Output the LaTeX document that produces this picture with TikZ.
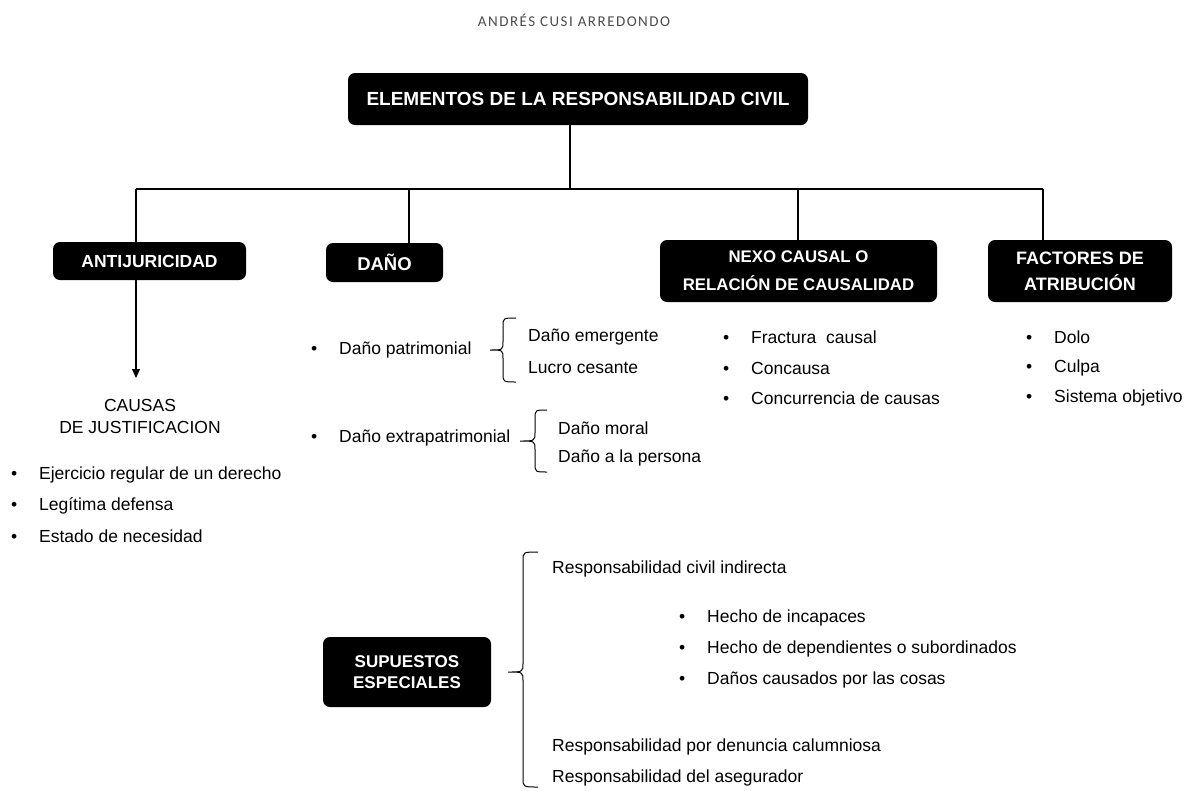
\documentclass[tikz,border=0pt]{standalone}
\usepackage{fontspec}
\setmainfont{Liberation Sans}
\newfontfamily\titlefont[LetterSpace=10]{Carlito}
\usetikzlibrary{arrows.meta}
\newcommand{\wbrace}[6]{% tip x, vertical x, end x, top y, mid y, bottom y
  \draw[brl] (#3,#4) .. controls (#2,#4) .. (#2,#4+9) -- (#2,#5-9)
    .. controls (#2,#5) .. (#1,#5) .. controls (#2,#5) .. (#2,#5+9)
    -- (#2,#6-9) .. controls (#2,#6) .. (#3,#6);}
\newcommand{\bul}{\makebox[28pt][l]{•}}
\begin{document}
\begin{tikzpicture}[x=1pt,y=-1pt,
  blackbox/.style={fill=black, rounded corners=7pt, text=white,
    font=\bfseries\fontsize{17.5}{28}\selectfont, align=center, inner sep=0pt},
  conn/.style={draw=black, line width=1.2pt},
  item/.style={anchor=west, inner sep=0pt, font=\fontsize{17.5}{20}\selectfont},
  brl/.style={draw=black, line width=1pt},
]
\useasboundingbox (0,0) rectangle (1190,790);

% title
\node[font=\titlefont\fontsize{15}{15}\selectfont, text=black!70] (title) at (574,20) {ANDRÉS CUSI ARREDONDO};

% boxes
\node[blackbox, minimum width=460, minimum height=52, font=\bfseries\fontsize{19}{20}\selectfont] (main) at (578,99) {ELEMENTOS DE LA RESPONSABILIDAD CIVIL};
\node[blackbox, minimum width=193, minimum height=38] (anti) at (149.5,261) {ANTIJURICIDAD};
\node[blackbox, minimum width=117, minimum height=39, font=\bfseries\fontsize{18.5}{20}\selectfont] (dano) at (384.5,262.5) {DAÑO};
\node[blackbox, minimum width=277, minimum height=62, font=\bfseries\fontsize{16.8}{28}\selectfont] (nexo) at (798.5,271) {NEXO CAUSAL O\\RELACIÓN DE CAUSALIDAD};
\node[blackbox, minimum width=184, minimum height=62, font=\bfseries\fontsize{18}{26}\selectfont] (fact) at (1080,271) {FACTORES DE\\ATRIBUCIÓN};
\node[blackbox, minimum width=168, minimum height=70, font=\bfseries\fontsize{17}{21}\selectfont] (sup) at (407,672) {SUPUESTOS\\ESPECIALES};

% tree connectors
\coordinate (j0) at (570,189);
\coordinate (jA) at (136,189);
\coordinate (jD) at (409,189);
\coordinate (jN) at (798,189);
\coordinate (jF) at (1043,189);
\coordinate (arrEnd) at (136,378);
\draw[conn] (main.south -| j0) -- (j0);
\draw[conn] (jA) -- (jF);
\draw[conn] (jA) -- (jA |- anti.north);
\draw[conn] (jD) -- (jD |- dano.north);
\draw[conn] (jN) -- (jN |- nexo.north);
\draw[conn] (jF) -- (jF |- fact.north);
\draw[conn, -{Triangle[length=9pt,width=8pt]}] (anti.south -| jA) -- (arrEnd);

% antijuricidad
\node[font=\fontsize{17.5}{22}\selectfont, align=center, inner sep=0pt] (causas) at (140,416) {CAUSAS\\DE JUSTIFICACION};
\node[item] (a1) at (11,475) {\bul Ejercicio regular de un derecho};
\node[item] (a2) at (11,506) {\bul Legítima defensa};
\node[item] (a3) at (11,536) {\bul Estado de necesidad};

% daño
\node[item] (d1) at (311,350) {\bul Daño patrimonial};
\node[item] (d11) at (528,337) {Daño emergente};
\node[item] (d12) at (528,368) {Lucro cesante};
\wbrace{490}{503}{516}{318}{350}{382}
\node[item] (d2) at (311,438) {\bul Daño extrapatrimonial};
\node[item] (d21) at (558,428) {Daño moral};
\node[item] (d22) at (558,458) {Daño a la persona};
\wbrace{520}{535}{547}{410}{441}{472}

% nexo
\node[item] (n1) at (723,337) {\bul Fractura\ \ causal};
\node[item] (n2) at (723,368) {\bul Concausa};
\node[item] (n3) at (723,398) {\bul Concurrencia de causas};

% factores
\node[item] (f1) at (1026,337) {\bul Dolo};
\node[item] (f2) at (1026,368) {\bul Culpa};
\node[item] (f3) at (1026,398) {\bul Sistema objetivo};

% supuestos
\wbrace{508}{523}{538}{552}{672}{787}
\node[item] (s1) at (552,569) {Responsabilidad civil indirecta};
\node[item] (s11) at (679,618) {\bul Hecho de incapaces};
\node[item] (s12) at (679,649) {\bul Hecho de dependientes o subordinados};
\node[item] (s13) at (679,680) {\bul Daños causados por las cosas};
\node[item] (s2) at (552,747) {Responsabilidad por denuncia calumniosa};
\node[item] (s3) at (552,778) {Responsabilidad del asegurador};
\end{tikzpicture}
\end{document}
